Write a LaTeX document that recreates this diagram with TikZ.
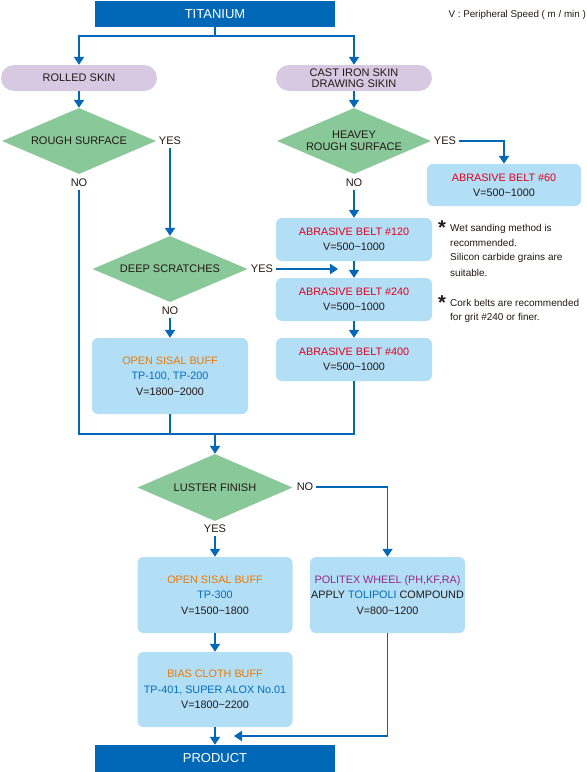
\documentclass[tikz,border=0pt]{standalone}
\usepackage{fontspec}
\setmainfont{Liberation Sans}
\usetikzlibrary{shapes.geometric,arrows.meta}
\definecolor{mainblue}{RGB}{0,104,183}
\definecolor{boxfill}{RGB}{178,222,246}
\definecolor{dgreen}{RGB}{137,200,152}
\definecolor{lav}{RGB}{216,201,226}
\definecolor{cred}{RGB}{228,0,30}
\definecolor{corange}{RGB}{238,120,0}
\definecolor{cblue}{RGB}{0,110,190}
\definecolor{cpurple}{RGB}{150,40,140}
\definecolor{ctext}{RGB}{35,24,21}
\begin{document}
\begin{tikzpicture}[x=1pt,y=-1pt,
  every node/.style={text=ctext},
  endbox/.style={rectangle, fill=mainblue, minimum width=240pt, minimum height=26pt, inner sep=0pt, text=white, font=\fontsize{13}{15}\selectfont},
  pill/.style={rectangle, rounded corners=13pt, fill=lav, minimum width=156pt, minimum height=26pt, inner sep=0pt, align=center, font=\fontsize{11}{11.5}\selectfont},
  decision/.style={diamond, aspect=2.35, fill=dgreen, minimum width=155pt, minimum height=66pt, inner sep=0pt, align=center, font=\fontsize{11}{12}\selectfont},
  procbox/.style={rectangle, rounded corners=6pt, fill=boxfill, minimum width=156pt, inner sep=0pt, align=center, font=\fontsize{10.8}{15.3}\selectfont},
  lbl/.style={inner sep=3pt, font=\fontsize{11}{12}\selectfont},
  note/.style={inner sep=0pt, anchor=base west, font=\fontsize{10}{12}\selectfont},
  star/.style={inner sep=0pt, anchor=base, font=\fontsize{20}{20}\selectfont\bfseries},
  conn/.style={draw=mainblue, line width=1.8pt},
  arr/.style={conn, -{Triangle[width=10pt,length=8pt]}},
]
\useasboundingbox (0,0) rectangle (587,772);

% nodes
\node[endbox] (titanium) at (215,14) {TITANIUM};
\node[inner sep=0pt, anchor=base east, font=\fontsize{9.8}{12}\selectfont] (vnote) at (586,17.5) {V : Peripheral Speed ( m / min )};

\node[pill] (rolled) at (79,78) {ROLLED SKIN};
\node[pill] (cast) at (354,78) {CAST IRON SKIN\\DRAWING SIKIN};

\node[decision, minimum width=154pt] (rough) at (79,141) {ROUGH SURFACE};
\node[decision, minimum width=154pt] (heavey) at (354,141) {HEAVEY\\ROUGH SURFACE};
\node[lbl] (yesR) at (170,141) {YES};
\node[lbl] (noR) at (79,183) {NO};
\node[lbl] (yesH) at (445,141) {YES};
\node[lbl] (noH) at (354,183) {NO};

\node[procbox, minimum width=154pt, minimum height=42pt] (belt60) at (504,185) {\textcolor{cred}{ABRASIVE BELT \#60}\\V=500\textasciitilde1000};
\node[procbox, minimum height=43pt] (belt120) at (354,239.5) {\textcolor{cred}{ABRASIVE BELT \#120}\\V=500\textasciitilde1000};
\node[procbox, minimum height=43pt] (belt240) at (354,299.5) {\textcolor{cred}{ABRASIVE BELT \#240}\\V=500\textasciitilde1000};
\node[procbox, minimum height=43pt] (belt400) at (354,359.5) {\textcolor{cred}{ABRASIVE BELT \#400}\\V=500\textasciitilde1000};

\node[star] (s1) at (442,234) {*};
\node[note] (n1a) at (450,231.5) {Wet sanding method is};
\node[note] (n1b) at (450,246.5) {recommended.};
\node[note] (n1c) at (450,260.5) {Silicon carbide grains are};
\node[note] (n1d) at (450,276) {suitable.};
\node[star] (s2) at (442,309) {*};
\node[note] (n2a) at (450,306.5) {Cork belts are recommended};
\node[note] (n2b) at (450,320.5) {for grit \#240 or finer.};

\node[decision] (deep) at (170,269) {DEEP SCRATCHES};
\node[lbl] (yesD) at (262,269) {YES};
\node[lbl] (noD) at (170,311) {NO};
\coordinate (yend) at (338,269);

\node[procbox, minimum height=76pt] (sisal1) at (170,376) {\textcolor{corange}{OPEN SISAL BUFF}\\\textcolor{cblue}{TP-100, TP-200}\\V=1800\textasciitilde2000};

\coordinate (merge) at (215,434);

\node[decision, minimum height=67pt] (luster) at (215,487.5) {LUSTER FINISH};
\node[lbl] (noL) at (305,487) {NO};
\node[lbl] (yesL) at (215,529) {YES};

\node[procbox, minimum width=155pt, minimum height=76pt] (sisal2) at (215,595) {\textcolor{corange}{OPEN SISAL BUFF}\\\textcolor{cblue}{TP-300}\\V=1500\textasciitilde1800};
\node[procbox, minimum width=155pt, minimum height=76pt] (politex) at (387.5,595) {\textcolor{cpurple}{POLITEX WHEEL (PH,KF,RA)}\\APPLY \textcolor{cblue}{TOLIPOLI} COMPOUND\\V=800\textasciitilde1200};
\node[procbox, minimum width=155pt, minimum height=75pt] (bias) at (215,689.5) {\textcolor{corange}{BIAS CLOTH BUFF}\\\textcolor{cblue}{TP-401, SUPER ALOX No.01}\\V=1800\textasciitilde2200};

\node[endbox, minimum height=27pt] (product) at (215,758.5) {PRODUCT};
\coordinate (pend) at (234,736);

% connectors
\draw[arr] (titanium.south) -- ++(0,9) -| (rolled.north);
\draw[arr] (titanium.south) -- ++(0,9) -| (cast.north);
\draw[arr] (rolled.south) -- (rough.north);
\draw[arr] (cast.south) -- (heavey.north);
\draw[arr] (yesR.south) -- (deep.north);
\draw[conn] (noR.south) |- (merge);
\draw[conn] (belt400.south) |- (merge);
\draw[conn] (sisal1.south) -- (sisal1.south |- merge);
\draw[arr] (merge) -- (luster.north);
\draw[arr] (yesH.east) -| (belt60.north);
\draw[arr] (noH.south) -- (belt120.north);
\draw[arr] (belt120.south) -- (belt240.north);
\draw[arr] (belt240.south) -- (belt400.north);
\draw[arr] (yesD.east) -- (yend);
\draw[arr] (noD.south) -- (sisal1.north);
\draw[arr] (noL.east) -| (politex.north);
\draw[arr] (yesL.south) -- (sisal2.north);
\draw[arr] (sisal2.south) -- (bias.north);
\draw[arr] (bias.south) -- (product.north);
\draw[arr] (politex.south) |- (pend);
\end{tikzpicture}
\end{document}
